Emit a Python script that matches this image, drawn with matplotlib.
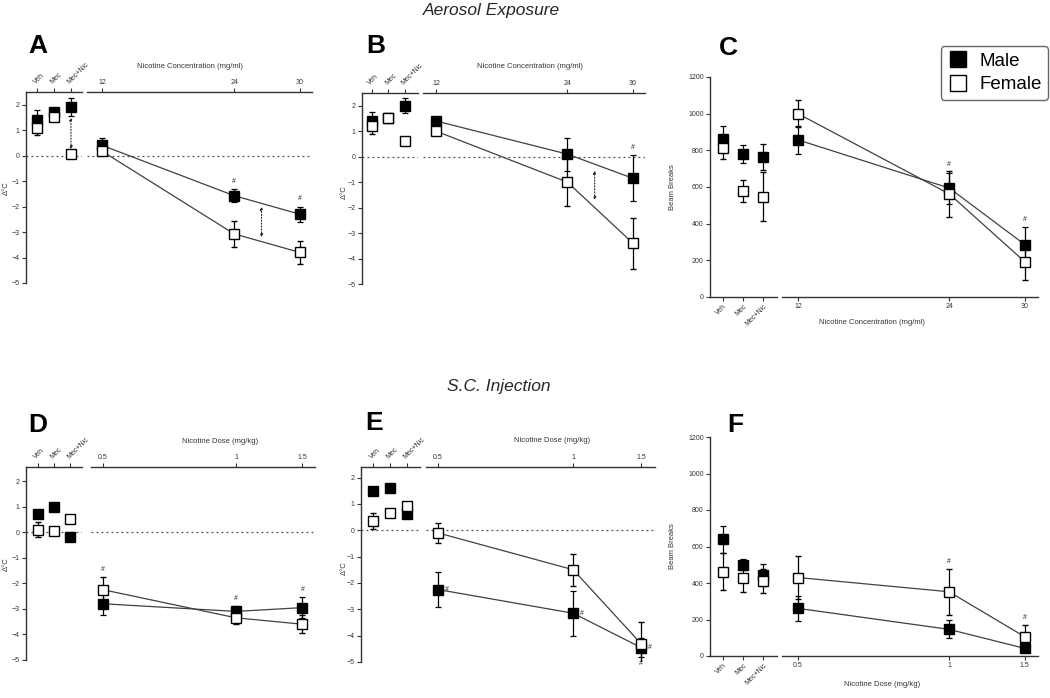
import numpy as np
import matplotlib
matplotlib.use('Agg')
import matplotlib.pyplot as plt
from matplotlib.lines import Line2D

plt.rcParams['font.family'] = ['Liberation Sans', 'DejaVu Sans']

W, H = 1050, 698

# ---------------- data ----------------
control_labels = ['Veh', 'Mec', 'Mec+Nic']
conc = [12, 24, 30]
dose = [0.5, 1, 1.5]
temp_yticks = [-5, -4, -3, -2, -1, 0, 1, 2]
beam_yticks = [0, 200, 400, 600, 800, 1000, 1200]

# Panel A (aerosol, body temperature)
a_ctrl_m = [1.4, 1.7, 1.9];    a_ctrl_m_err = [0.4, 0.1, 0.35]
a_ctrl_f = [1.1, 1.5, 0.05];   a_ctrl_f_err = [0.3, 0.1, 0.1]
a_m = [0.4, -1.57, -2.3];      a_m_err = [0.3, 0.25, 0.3]
a_f = [0.17, -3.07, -3.8];     a_f_err = [0.1, 0.5, 0.45]

# Panel B (aerosol, body temperature)
b_ctrl_m = [1.4, 1.5, 2.0];    b_ctrl_m_err = [0.35, 0.1, 0.3]
b_ctrl_f = [1.2, 1.5, 0.6];    b_ctrl_f_err = [0.3, 0.1, 0.05]
b_m = [1.4, 0.1, -0.85];       b_m_err = [0.1, 0.65, 0.9]
b_f = [1.0, -1.0, -3.4];       b_f_err = [0.1, 0.95, 1.0]

# Panel C (aerosol, beam breaks)
c_ctrl_m = [860, 780, 765];    c_ctrl_m_err = [75, 50, 70]
c_ctrl_f = [810, 580, 547];    c_ctrl_f_err = [55, 60, 135]
c_m = [857, 594, 285];         c_m_err = [75, 85, 95]
c_f = [1000, 562, 191];        c_f_err = [75, 125, 100]

# Panel D (s.c., body temperature)
d_ctrl_m = [0.7, 1.0, -0.2];   d_ctrl_m_err = [0.1, 0.1, 0.15]
d_ctrl_f = [0.1, 0.05, 0.5];   d_ctrl_f_err = [0.3, 0.15, 0.1]
d_m = [-2.8, -3.1, -2.95];     d_m_err = [0.45, 0.2, 0.4]
d_f = [-2.25, -3.35, -3.6];    d_f_err = [0.5, 0.25, 0.35]

# Panel E (s.c., body temperature)
e_ctrl_m = [1.5, 1.6, 0.6];    e_ctrl_m_err = [0.15, 0.05, 0.1]
e_ctrl_f = [0.35, 0.65, 0.93]; e_ctrl_f_err = [0.3, 0.1, 0.1]
e_m = [-2.25, -3.15, -4.45];   e_m_err = [0.65, 0.85, 0.35]
e_f = [-0.1, -1.5, -4.3];      e_f_err = [0.38, 0.6, 0.8]

# Panel F (s.c., beam breaks)
f_ctrl_m = [640, 500, 445];    f_ctrl_m_err = [75, 30, 60]
f_ctrl_f = [462, 430, 412];    f_ctrl_f_err = [100, 80, 65]
f_m = [261, 146, 42];          f_m_err = [70, 50, 20]
f_f = [430, 352, 106];         f_f_err = [120, 125, 65]


# ---------------- helpers ----------------
def rect(x0, y0, x1, y1):
    return [x0 / W, 1 - y1 / H, (x1 - x0) / W, (y1 - y0) / H]


def dose_fwd(x):
    x = np.asarray(x, dtype=float)
    return np.where(x <= 1, (x - 0.5) * 2, x)


def dose_inv(y):
    y = np.asarray(y, dtype=float)
    return np.where(y <= 1, y / 2 + 0.5, y)


TICKFS = 5
LINEC = '0.25'
MS = 7


def style_ax(ax):
    for s in ax.spines.values():
        s.set_linewidth(1.0)
        s.set_color('0.2')
    ax.tick_params(length=3, width=0.8, labelsize=TICKFS, colors='0.2', pad=1.5)


def draw_series(ax, x, m, m_err, f, f_err, line=True):
    ls = '-' if line else 'none'
    ax.errorbar(x, m, yerr=m_err, fmt='s', ls=ls, color=LINEC, lw=0.9,
                mfc='black', mec='black', ms=MS, ecolor='black', elinewidth=0.9,
                capsize=2.5, capthick=0.9, zorder=3)
    ax.errorbar(x, f, yerr=f_err, fmt='s', ls=ls, color=LINEC, lw=0.9,
                mfc='white', mec='black', mew=1.0, ms=MS, ecolor='black', elinewidth=0.9,
                capsize=2.5, capthick=0.9, zorder=4)


def hash_mark(ax, x, y, dx=0, dy=3, ha='center', va='bottom'):
    ax.annotate('#', (x, y), xytext=(dx, dy), textcoords='offset points',
                ha=ha, va=va, fontsize=5, color='0.15')


def bracket(ax, x, y1, y2):
    ax.annotate('', xy=(x, y1), xytext=(x, y2),
                arrowprops=dict(arrowstyle='<|-|>', ls=':', lw=0.8, color='0.15',
                                mutation_scale=4, shrinkA=0, shrinkB=0))


def temp_panel(ctrl_box, main_box, ctrl_xlim, main_xlim, ylim,
               ctrl_m, ctrl_m_err, ctrl_f, ctrl_f_err,
               xvals, m, m_err, f, f_err, xticks, xticklabels, dose_scale=False):
    axc = fig.add_axes(rect(*ctrl_box))
    axm = fig.add_axes(rect(*main_box))
    for ax in (axc, axm):
        style_ax(ax)
        ax.set_ylim(*ylim)
        ax.xaxis.tick_top()
        ax.spines['bottom'].set_visible(False)
        ax.spines['right'].set_visible(False)
        ax.set_facecolor('none')
        ax.axhline(0, ls=(0, (1.5, 2.5)), color='0.3', lw=0.9, zorder=1)
    axm.spines['left'].set_visible(False)
    axm.tick_params(axis='y', left=False, labelleft=False)

    cx = np.arange(len(control_labels))
    axc.set_xlim(*ctrl_xlim)
    axc.set_xticks(cx)
    axc.set_xticklabels(control_labels, rotation=45, ha='left', va='bottom',
                        rotation_mode='anchor')
    axc.set_yticks(temp_yticks)
    draw_series(axc, cx, ctrl_m, ctrl_m_err, ctrl_f, ctrl_f_err, line=False)

    if dose_scale:
        axm.set_xscale('function', functions=(dose_fwd, dose_inv))
    axm.set_xlim(*main_xlim)
    axm.set_xticks(xticks)
    axm.set_xticklabels(xticklabels)
    axm.minorticks_off()
    draw_series(axm, xvals, m, m_err, f, f_err, line=True)
    return axc, axm


def beam_panel(ctrl_box, main_box, ctrl_xlim, main_xlim,
               ctrl_m, ctrl_m_err, ctrl_f, ctrl_f_err,
               xvals, m, m_err, f, f_err, xticks, xticklabels, dose_scale=False):
    axc = fig.add_axes(rect(*ctrl_box))
    axm = fig.add_axes(rect(*main_box))
    for ax in (axc, axm):
        style_ax(ax)
        ax.set_ylim(0, 1200)
        ax.spines['top'].set_visible(False)
        ax.spines['right'].set_visible(False)
        ax.set_facecolor('none')
    axm.spines['left'].set_visible(False)
    axm.tick_params(axis='y', left=False, labelleft=False)

    cx = np.arange(len(control_labels))
    axc.set_xlim(*ctrl_xlim)
    axc.set_xticks(cx)
    axc.set_xticklabels(control_labels, rotation=45, ha='right', va='top',
                        rotation_mode='anchor')
    axc.set_yticks(beam_yticks)
    draw_series(axc, cx, ctrl_m, ctrl_m_err, ctrl_f, ctrl_f_err, line=False)

    if dose_scale:
        axm.set_xscale('function', functions=(dose_fwd, dose_inv))
    axm.set_xlim(*main_xlim)
    axm.set_xticks(xticks)
    axm.set_xticklabels(xticklabels)
    axm.minorticks_off()
    draw_series(axm, xvals, m, m_err, f, f_err, line=True)
    return axc, axm


fig = plt.figure(figsize=(W / 100, H / 100), dpi=100)

# ---------------- Panel A ----------------
axc, axm = temp_panel((26, 92, 82, 283), (87, 92, 312, 283), (-0.65, 2.65), (10.6, 31.1), (-5, 2.5),
                      a_ctrl_m, a_ctrl_m_err, a_ctrl_f, a_ctrl_f_err,
                      conc, a_m, a_m_err, a_f, a_f_err, conc, ['12', '24', '30'])
for i in (1, 2):
    hash_mark(axm, conc[i], a_m[i] + a_m_err[i])
bracket(axm, 26.5, -2.0, -3.2)
bracket(axc, 2, 1.5, 0.25)

# ---------------- Panel B ----------------
axc, axm = temp_panel((362, 93, 418, 284), (423, 93, 645, 284), (-0.6, 2.8), (10.8, 31.1), (-5, 2.5),
                      b_ctrl_m, b_ctrl_m_err, b_ctrl_f, b_ctrl_f_err,
                      conc, b_m, b_m_err, b_f, b_f_err, conc, ['12', '24', '30'])
hash_mark(axm, conc[2], b_m[2] + b_m_err[2])
bracket(axm, 26.5, -0.55, -1.7)

# ---------------- Panel C ----------------
axc, axm = beam_panel((710, 77, 777, 297), (782, 77, 1038, 297), (-0.65, 2.7), (10.73, 31.03),
                      c_ctrl_m, c_ctrl_m_err, c_ctrl_f, c_ctrl_f_err,
                      conc, c_m, c_m_err, c_f, c_f_err, conc, ['12', '24', '30'])
for i in (1, 2):
    hash_mark(axm, conc[i], c_m[i] + c_m_err[i])

# ---------------- Panel D ----------------
axc, axm = temp_panel((26, 467, 82, 660), (91, 467, 315, 660), (-0.7, 2.7), (0.455, 1.594), (-5, 2.55),
                      d_ctrl_m, d_ctrl_m_err, d_ctrl_f, d_ctrl_f_err,
                      dose, d_m, d_m_err, d_f, d_f_err, dose, ['0.5', '1', '1.5'], dose_scale=True)
hash_mark(axm, dose[0], d_f[0] + d_f_err[0])
hash_mark(axm, dose[1], d_m[1] + d_m_err[1])
hash_mark(axm, dose[2], d_m[2] + d_m_err[2])

# ---------------- Panel E ----------------
axc, axm = temp_panel((361, 467, 420, 662), (426, 467, 655, 662), (-0.7, 2.76), (0.456, 1.604), (-5, 2.4),
                      e_ctrl_m, e_ctrl_m_err, e_ctrl_f, e_ctrl_f_err,
                      dose, e_m, e_m_err, e_f, e_f_err, dose, ['0.5', '1', '1.5'], dose_scale=True)
for i in range(3):
    hash_mark(axm, dose[i], e_m[i], dx=5, dy=0, ha='left', va='center')
hash_mark(axm, dose[2], e_m[2] - e_m_err[2], dx=0, dy=-2, va='top')

# ---------------- Panel F ----------------
axc, axm = beam_panel((710, 437, 777, 656), (782, 437, 1038, 656), (-0.65, 2.7), (0.447, 1.589),
                      f_ctrl_m, f_ctrl_m_err, f_ctrl_f, f_ctrl_f_err,
                      dose, f_m, f_m_err, f_f, f_f_err, dose, ['0.5', '1', '1.5'], dose_scale=True)
for i in (1, 2):
    hash_mark(axm, dose[i], f_f[i] + f_f_err[i])

# ---------------- text ----------------
def ftext(x, y, s, **kw):
    fig.text(x / W, 1 - y / H, s, **kw)

ftext(491, 10, 'Aerosol Exposure', fontsize=12.5, style='italic', ha='center', va='center', color='0.15')
ftext(499, 387, 'S.C. Injection', fontsize=12.5, style='italic', ha='center', va='center', color='0.15')

for lab, x, y in [('A', 28, 53), ('B', 366, 53), ('C', 719, 55),
                  ('D', 28, 432), ('E', 365, 430), ('F', 727, 432)]:
    ftext(x, y, lab, fontsize=19, fontweight='bold', ha='left', va='baseline')

axis_fs = 5.5
ftext(190, 67, 'Nicotine Concentration (mg/ml)', fontsize=axis_fs, ha='center', va='center', color='0.2')
ftext(530, 67, 'Nicotine Concentration (mg/ml)', fontsize=axis_fs, ha='center', va='center', color='0.2')
ftext(220, 442, 'Nicotine Dose (mg/kg)', fontsize=axis_fs, ha='center', va='center', color='0.2')
ftext(552, 440, 'Nicotine Dose (mg/kg)', fontsize=axis_fs, ha='center', va='center', color='0.2')
ftext(872, 322, 'Nicotine Concentration (mg/ml)', fontsize=axis_fs, ha='center', va='center', color='0.2')
ftext(882, 684, 'Nicotine Dose (mg/kg)', fontsize=axis_fs, ha='center', va='center', color='0.2')

for x, y in [(6, 188), (344, 192), (6, 564), (344, 568)]:
    ftext(x, y, 'Δ°C', fontsize=axis_fs, rotation=90, ha='center', va='center', color='0.2')
for x, y in [(673, 187), (673, 546)]:
    ftext(x, y, 'Beam Breaks', fontsize=axis_fs, rotation=90, ha='center', va='center', color='0.2')

# legend
handles = [Line2D([], [], marker='s', ms=12, mfc='black', mec='black', ls='none'),
           Line2D([], [], marker='s', ms=12, mfc='white', mec='black', ls='none')]
leg = fig.legend(handles, ['Male', 'Female'], loc='upper right',
                 bbox_to_anchor=(1048 / W, 1 - 46 / H), fontsize=13.5, frameon=True,
                 fancybox=True, edgecolor='0.25', borderaxespad=0, handlelength=1.1,
                 handletextpad=0.6, borderpad=0.35, labelspacing=0.35)
leg.get_frame().set_linewidth(1.0)

fig.savefig('out.png', dpi=100)
